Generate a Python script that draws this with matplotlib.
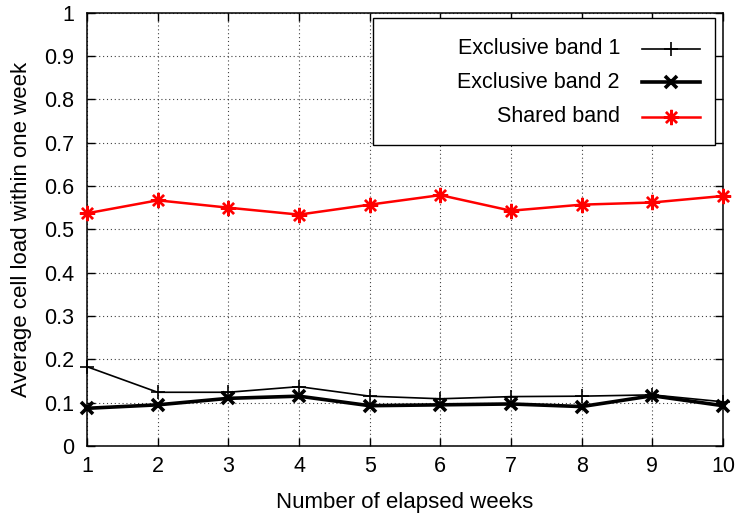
import matplotlib
matplotlib.use("Agg")
import matplotlib.pyplot as plt
from matplotlib.lines import Line2D
from matplotlib.patches import Rectangle

plt.rcParams['font.family'] = ['Liberation Sans', 'DejaVu Sans']

weeks = [1, 2, 3, 4, 5, 6, 7, 8, 9, 10]
exclusive_band_1 = [0.183, 0.124, 0.124, 0.137, 0.115, 0.109, 0.114, 0.115, 0.118, 0.102]
exclusive_band_2 = [0.087, 0.095, 0.110, 0.115, 0.093, 0.095, 0.097, 0.091, 0.116, 0.093]
shared_band = [0.537, 0.567, 0.550, 0.534, 0.557, 0.579, 0.543, 0.557, 0.562, 0.577]

series_labels = ["Exclusive band 1", "Exclusive band 2", "Shared band"]
y_ticks = [0, 0.1, 0.2, 0.3, 0.4, 0.5, 0.6, 0.7, 0.8, 0.9, 1]
y_tick_labels = ["0", "0.1", "0.2", "0.3", "0.4", "0.5", "0.6", "0.7", "0.8", "0.9", "1"]

ASTERISK = (8, 2, 0)
styles = [
    dict(color="black", lw=1.2, marker="+", ms=10, mew=1.2),
    dict(color="black", lw=2.6, marker="x", ms=8, mew=2.6),
    dict(color="red", lw=1.8, marker=ASTERISK, ms=11, mew=1.7),
]

fig = plt.figure(figsize=(7.39, 5.18), dpi=100)
fig.subplots_adjust(left=87 / 739, right=723 / 739, top=1 - 12.7 / 518, bottom=1 - 446 / 518)
ax = fig.add_subplot(111)

for vals, st in zip([exclusive_band_1, exclusive_band_2, shared_band], styles):
    ax.plot(weeks, vals, clip_on=False, zorder=3, **st)

ax.set_xlim(1, 10)
ax.set_ylim(0, 1)
ax.set_xticks(weeks)
ax.set_xticklabels([str(w) for w in weeks])
ax.set_yticks(y_ticks)
ax.set_yticklabels(y_tick_labels)
ax.tick_params(direction="in", length=6, width=1, top=True, right=True, labelsize=15.5)
ax.tick_params(axis="x", pad=7)
ax.tick_params(axis="y", pad=9)
ax.grid(True, linestyle=(0, (1, 2.5)), color="black", linewidth=0.8, alpha=0.75)
for s in ax.spines.values():
    s.set_linewidth(1.1)

ax.set_xlabel("Number of elapsed weeks", fontsize=16, labelpad=11)
ax.set_ylabel("Average cell load within one week", fontsize=16, labelpad=9)

# key box with right-aligned entries, gnuplot style
ax.add_patch(Rectangle((0.449, 0.695), 0.538, 0.292, transform=ax.transAxes,
                       facecolor="white", edgecolor="black", lw=1.0, zorder=5))
rows_y = [0.917, 0.839, 0.760]
for lab, st, yy in zip(series_labels, styles, rows_y):
    ax.text(0.838, yy, lab, transform=ax.transAxes, ha="right", va="center",
            fontsize=15.5, zorder=6)
    ax.add_line(Line2D([0.872, 0.964], [yy, yy], transform=ax.transAxes,
                       color=st["color"], lw=st["lw"], zorder=6))
    ax.add_line(Line2D([0.918], [yy], transform=ax.transAxes, color=st["color"],
                       lw=0, marker=st["marker"], ms=st["ms"], mew=st["mew"], zorder=6))

fig.savefig("out.png", dpi=100)
